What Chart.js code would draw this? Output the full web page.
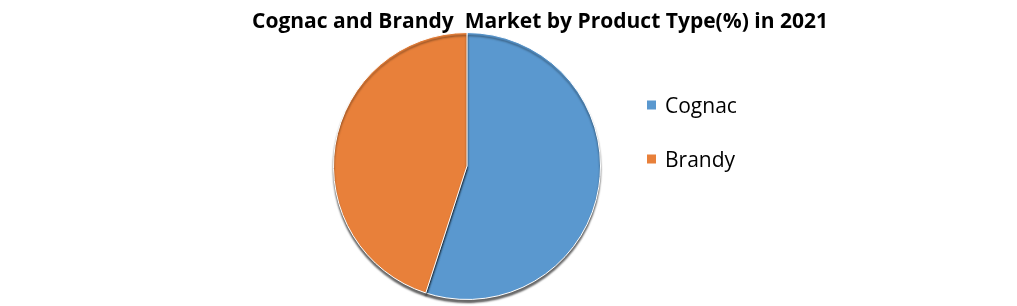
<!DOCTYPE html>
<html>
<head>
<meta charset="utf-8">
<script src="https://cdn.jsdelivr.net/npm/chart.js@4/dist/chart.umd.min.js"></script>
<style>
  html, body { margin: 0; padding: 0; background: #fff; }
  #box { width: 1017px; height: 306px; }
</style>
</head>
<body>
<div id="box"><canvas id="Chart" width="1017" height="306"></canvas></div>
<script>
let chartTitle = 'Cognac and Brandy  Market by Product Type(%) in 2021';
let productTypes = ['Cognac', 'Brandy'];
let shares = [55, 45];
let sliceColors = ['#5a98cf', '#e8803a'];

// title + legend drawn by hand so they sit where the original has them
let extras = {
    id: 'extras',
    beforeDatasetsDraw(chart) {
        let c = chart.ctx;
        c.save();
        c.shadowColor = 'rgba(0,0,0,0.6)';
        c.shadowBlur = 2;
        c.shadowOffsetX = 0;
        c.shadowOffsetY = 3;
    },
    afterDatasetsDraw(chart) {
        chart.ctx.restore();
    },
    afterDraw(chart) {
        let c = chart.ctx;
        c.save();
        c.fillStyle = '#000';
        c.textBaseline = 'alphabetic';
        c.font = 'bold 22px "Open Sans"';
        c.textAlign = 'center';
        c.fillText(chartTitle, 540, 28, 576);

        c.textAlign = 'left';
        c.font = '21px "Open Sans"';
        let ys = [105, 159];
        chart.data.labels.forEach((lbl, i) => {
            c.fillStyle = chart.data.datasets[0].backgroundColor[i];
            c.fillRect(647, ys[i] - 4.5, 9, 9);
            c.fillStyle = '#000';
            c.fillText(lbl, 665, ys[i] + 8, 73);
        });
        c.restore();
    }
};

let ctx = document.getElementById('Chart').getContext('2d');
let currentChart = new Chart(ctx, {
    type: 'pie',
    data: {
        labels: productTypes,
        datasets: [{
            data: shares,
            backgroundColor: sliceColors,
            borderColor: '#ffffff',
            borderWidth: 1
        }]
    },
    options: {
        responsive: false,
        animation: false,
        layout: {
            padding: { top: 32, bottom: 6, left: 333, right: 416 }
        },
        plugins: {
            legend: { display: false },
            title: { display: false },
            tooltip: { enabled: false }
        }
    },
    plugins: [extras]
});
</script>
</body>
</html>
